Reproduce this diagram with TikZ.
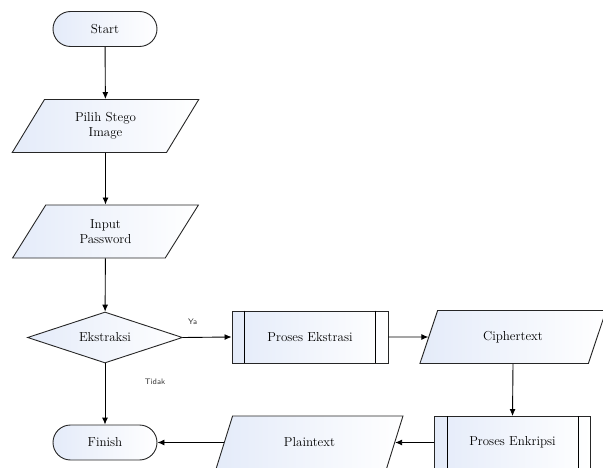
\documentclass[tikz,border=0pt]{standalone}
\usetikzlibrary{shapes.geometric,arrows.meta}

\definecolor{fillblue}{RGB}{228,235,249}

\tikzset{
  base/.style={draw=black!85, line width=0.9pt, left color=fillblue, right color=white,
    align=center, font=\fontsize{13}{15}\selectfont, inner sep=0pt},
  terminal/.style={base, rectangle, rounded corners=17.5pt, minimum width=104pt, minimum height=35pt},
  io/.style={base, trapezium, trapezium left angle=59, trapezium right angle=121,
    trapezium stretches=true, minimum width=187pt, minimum height=53pt},
  decision/.style={base, diamond, aspect=3, minimum width=155pt, minimum height=51pt},
  process/.style={base, rectangle, minimum width=156pt, minimum height=52pt},
  line/.style={line width=0.9pt, -{Latex[length=7pt,width=6pt]}},
  answer/.style={font=\sffamily\fontsize{8}{9}\selectfont, text=black!80}
}

\begin{document}
\begin{tikzpicture}[x=1pt, y=-1pt]
    \useasboundingbox (0,0) rectangle (603,468);
    \clip (0,0) rectangle (603,468);

    % left column
    \node[terminal] (start) at (105,29) {Start};
    \node[io] (pilih) at (105.5,126) {Pilih Stego\\Image};
    \node[io] (input) at (105.5,231.5) {Input\\Password};
    \node[decision] (ekstraksi) at (105,337.5) {Ekstraksi};
    \node[terminal] (finish) at (105,442.5) {Finish};

    % right part
    \node[process] (ekstrasi) at (310,337) {Proses Ekstrasi};
    \node[io] (cipher) at (513,337) {Ciphertext};
    \node[process] (enkripsi) at (512.5,442.5) {Proses Enkripsi};
    \node[io] (plain) at (309.5,442.5) {Plaintext};

    % side bars of the process boxes
    \foreach \p in {ekstrasi, enkripsi} {
      \draw[line width=0.9pt] ([xshift=13pt]\p.north west) -- ([xshift=13pt]\p.south west);
      \draw[line width=0.9pt] ([xshift=-13pt]\p.north east) -- ([xshift=-13pt]\p.south east);
    }

    % connectors
    \draw[line] (start) -- (pilih);
    \draw[line] (pilih) -- (input);
    \draw[line] (input) -- (ekstraksi);
    \draw[line] (ekstraksi.east) -- node[answer, pos=0.2, above=9pt] {Ya} (ekstrasi.west);
    \draw[line] (ekstraksi.south) -- node[answer, pos=0.3, right=36pt] {Tidak} (finish.north);
    \draw[line] (ekstrasi.east) -- (cipher.west);
    \draw[line] (cipher.south) -- (enkripsi.north);
    \draw[line] (enkripsi.west) -- (plain.east);
    \draw[line] (plain.west) -- (finish.east);

\end{tikzpicture}
\end{document}
